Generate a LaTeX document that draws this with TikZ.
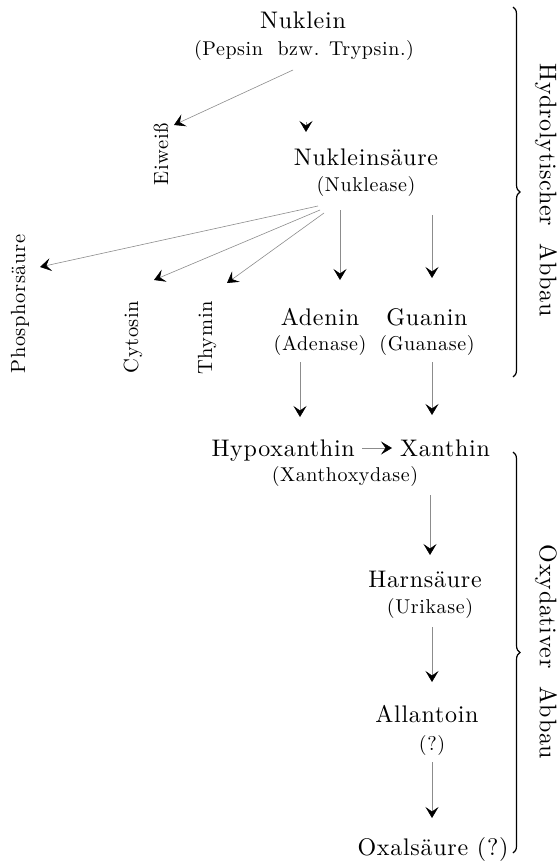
\documentclass[tikz,border=0pt]{standalone}
\usepackage{fontspec}
\setmainfont{lmroman10-regular.otf}[LetterSpace=3]
\usetikzlibrary{arrows.meta,decorations.pathreplacing,calc}
\begin{document}
\begin{tikzpicture}[x=1pt,y=-1pt,
  nm/.style={font=\fontsize{24}{28}\selectfont, anchor=base, inner sep=0pt, text=black},
  enz/.style={font=\fontsize{20}{24}\selectfont, anchor=base, inner sep=0pt, text=black},
  side/.style={font=\fontsize{20.5}{24}\selectfont, rotate=90, inner sep=0pt, text=black},
  grp/.style={font=\fontsize{24}{28}\selectfont, rotate=-90, inner sep=0pt, text=black},
  arr/.style={draw=black!45, line width=0.6pt, -{Stealth[length=11pt,width=13pt,inset=4.5pt,color=black]}},
  brc/.style={decorate, decoration={brace, amplitude=7pt}, line width=1.2pt, draw=black}]
\useasboundingbox (0,0) rectangle (559,861);

% nodes
\node[nm]  (nuk) at (303,29)  {Nuklein};
\node[enz] (pep) at (304,56)  {(Pepsin\ \ bzw. Trypsin.)};
\node[side] (eiw) at (161,154) {Eiweiß};
\node[nm]  (nsr) at (366,165) {Nukleinsäure};
\node[enz] (nkl) at (366,191) {(Nuklease)};
\node[side] (pho) at (20,304)  {Phosphorsäure};
\node[side] (cyt) at (133,337) {Cytosin};
\node[side] (thy) at (207,338) {Thymin};
\node[nm]  (ade) at (320,325) {Adenin};
\node[enz] (ads) at (320,350) {(Adenase)};
\node[nm]  (gua) at (427,325) {Guanin};
\node[enz] (gus) at (427,350) {(Guanase)};
\node[nm, anchor=base east] (hyp) at (355,456) {Hypoxanthin};
\node[nm, anchor=base west] (xan) at (400,456) {Xanthin};
\node[enz] (xox) at (345,481) {(Xanthoxydase)};
\node[nm]  (har) at (425,587) {Harnsäure};
\node[enz] (uri) at (430,613) {(Urikase)};
\node[nm]  (all) at (427,722) {Allantoin};
\node[enz] (qm)  at (432,750) {(?)};
\node[nm]  (oxa) at (433,855) {Oxalsäure (?)};
\node[grp] (hyd) at (546,190) {Hydrolytischer\ \ Abbau};
\node[grp] (oxy) at (546,652) {Oxydativer\ \ Abbau};

% braces
\draw[brc] (513,7) -- (513,377);
\draw[brc] (513,452) -- (513,853);

% connectors
\draw[arr] ($(pep.base)+(-11,14)$) -- ($(eiw.center)+(13,-29)$);
\draw[arr] ($(pep.base)+(2,66)$) -- ($(nsr.base)+(-60,-33)$);
\draw[arr] ($(nkl.base)+(-48,15)$) -- ($(pho.center)+(20,-37)$);
\draw[arr] ($(nkl.base)+(-46,19)$) -- ($(cyt.center)+(21,-57)$);
\draw[arr] ($(nkl.base)+(-42,22)$) -- ($(thy.center)+(20,-55)$);
\draw[arr] ($(nkl.base)+(-26,19)$) -- ($(ade.base)+(20,-45)$);
\draw[arr] ($(nkl.base)+(66,24)$) -- ($(gua.base)+(5,-47)$);
\draw[arr] ($(ads.base)+(-20,12)$) -- ($(hyp.base east)+(-55,-39)$);
\draw[arr] ($(gus.base)+(5,12)$) -- ($(xan.base west)+(32,-41)$);
\draw[arr] ($(hyp.base east)+(7,-8)$) -- ($(xan.base west)+(-8,-8)$);
\draw[arr] ($(xox.base)+(85,14)$) -- ($(har.base)+(5,-32)$);
\draw[arr] ($(uri.base)+(2,14)$) -- ($(all.base)+(5,-40)$);
\draw[arr] ($(qm.base)+(0,12)$) -- ($(oxa.base)+(-1,-37)$);
\end{tikzpicture}
\end{document}
